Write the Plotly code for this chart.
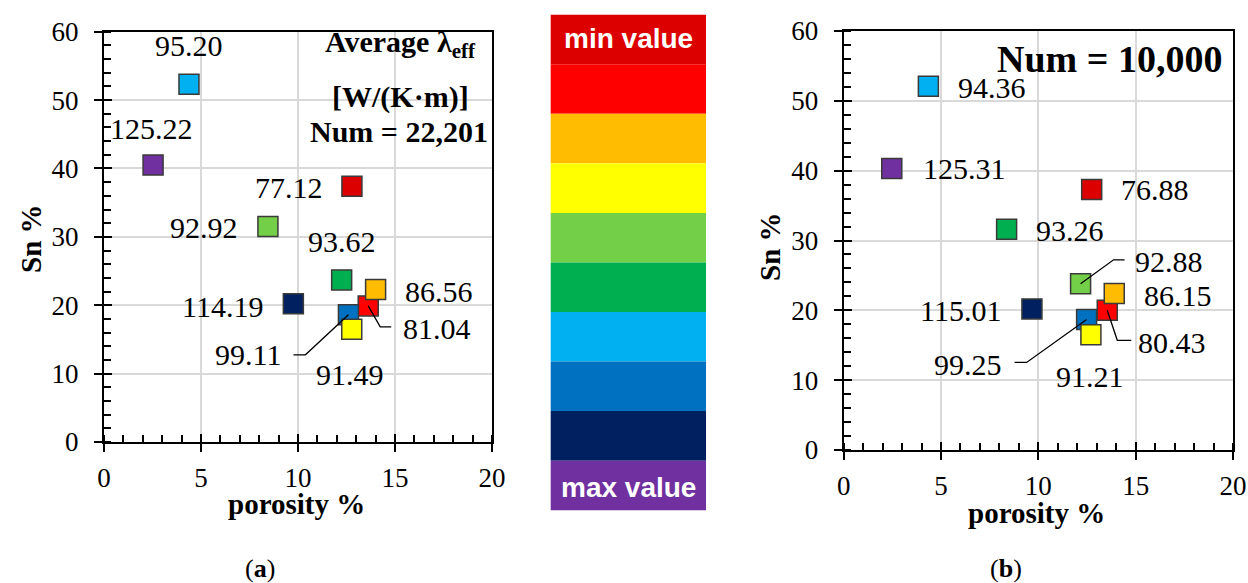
import plotly.graph_objects as go

W, H = 1248, 583

# ---------------- data ----------------
palette = ["#DC0000", "#FF0000", "#FFBC00", "#FFFF00", "#73CF47",
           "#00B050", "#00B0F0", "#0070C0", "#002060", "#7030A0"]
colorbar_labels = ["min value", "max value"]

# panel (a)  Num = 22,201
porosity_a = [4.38, 2.53, 12.78, 8.45, 12.25, 9.76, 13.62, 14.0, 12.6, 12.77]
sn_a = [52.3, 40.5, 37.4, 31.5, 23.7, 20.2, 19.9, 22.3, 18.6, 16.5]
lam_a = [95.20, 125.22, 77.12, 92.92, 93.62, 114.19, 81.04, 86.56, 99.11, 91.49]

# panel (b)  Num = 10,000
porosity_b = [4.35, 2.47, 12.74, 8.37, 12.17, 9.67, 13.54, 13.9, 12.48, 12.7]
sn_b = [52.1, 40.3, 37.3, 31.6, 23.8, 20.2, 20.0, 22.4, 18.7, 16.5]
lam_b = [94.36, 125.31, 76.88, 93.26, 92.88, 115.01, 80.43, 86.15, 99.25, 91.21]

x_ticks = [0, 5, 10, 15, 20]
y_ticks = [0, 10, 20, 30, 40, 50, 60]

# ---------------- layout helpers ----------------
def px(x):
    return x / W

def py(y):
    return 1 - y / H

SERIF = "Liberation Serif"
SANS = "Liberation Sans"

def rank_colors(vals):
    order = sorted(range(len(vals)), key=lambda i: vals[i])
    cols = [None] * len(vals)
    for r, i in enumerate(order):
        cols[i] = palette[r]
    return cols

# label placement (xanchor, xshift px, yshift px)
label_pos_a = [("center", 0, 39), ("center", -2, 37), ("right", -27, -1),
               ("right", -28, -1), ("center", 0, 38), ("right", -28, -3),
               ("left", 33, -23), ("left", 27, -2), ("right", -65, -40),
               ("center", -2, -45)]
label_pos_b = [("left", 28, -1), ("left", 29, 0), ("left", 27, 0),
               ("left", 27, -1), ("left", 52, 22), ("right", -29, -2),
               ("left", 29, -32), ("left", 28, -2), ("right", -83, -45),
               ("center", -1, -42)]
leaders_a = {6: "M0,0 L12,-21 L23,-21", 8: "M0,0 L-43,-40 L-55,-40"}
leaders_b = {4: "M0,0 L33,24 L44,24", 6: "M0,0 L10,-30 L24,-30",
             8: "M0,0 L-60,-43 L-72,-43"}

fig = go.Figure()

panels = [
    dict(xs=porosity_a, ys=sn_a, lam=lam_a, xa="x", ya="y", pos=label_pos_a, lead=leaders_a,
         xdom=[px(104), px(492)], ydom=[py(442), py(31.7)]),
    dict(xs=porosity_b, ys=sn_b, lam=lam_b, xa="x2", ya="y2", pos=label_pos_b, lead=leaders_b,
         xdom=[px(843.7), px(1233)], ydom=[py(450), py(31)]),
]

annotations = []
shapes = []

for p in panels:
    fig.add_trace(go.Scatter(
        x=p["xs"], y=p["ys"], mode="markers", xaxis=p["xa"], yaxis=p["ya"],
        marker=dict(symbol="square", size=20, color=rank_colors(p["lam"]),
                    line=dict(color="#3a3a3a", width=1.5)),
        showlegend=False, hoverinfo="skip"))
    for i, (xv, yv, lv) in enumerate(zip(p["xs"], p["ys"], p["lam"])):
        anc, dx, dy = p["pos"][i]
        annotations.append(dict(
            x=xv, y=yv, xref=p["xa"], yref=p["ya"], text=f"{lv:.2f}",
            showarrow=False, xanchor=anc, yanchor="middle", xshift=dx, yshift=dy,
            font=dict(family=SERIF, size=30, color="black", weight="normal")))
        if i in p["lead"]:
            shapes.append(dict(
                type="path", xref=p["xa"], yref=p["ya"], xsizemode="pixel", ysizemode="pixel",
                xanchor=xv, yanchor=yv, path=p["lead"][i],
                line=dict(color="black", width=1.3), layer="above"))

axis_common = dict(showline=True, linecolor="black", linewidth=2, mirror=True,
                   showgrid=True, gridcolor="#D9D9D9", gridwidth=2, zeroline=False,
                   ticks="outside", ticklen=8, tickwidth=2, tickcolor="black",
                   tickfont=dict(family=SERIF, size=27, color="black", weight="normal"))

fig.update_layout(
    xaxis=dict(domain=panels[0]["xdom"], anchor="y", range=[0, 20], tickvals=x_ticks,
               minor=dict(ticks="inside", ticklen=7, tickwidth=1.5, tickcolor="black", dtick=1, showgrid=False),
               ticklabelstandoff=3, **axis_common),
    yaxis=dict(domain=panels[0]["ydom"], anchor="x", range=[0, 60], tickvals=y_ticks,
               minor=dict(ticks="inside", ticklen=7, tickwidth=1.5, tickcolor="black", dtick=2, showgrid=False),
               ticklabelstandoff=10, **axis_common),
    xaxis2=dict(domain=panels[1]["xdom"], anchor="y2", range=[0, 20], tickvals=x_ticks,
                minor=dict(ticks="inside", ticklen=7, tickwidth=1.5, tickcolor="black", dtick=1, showgrid=False),
                ticklabelstandoff=3, **axis_common),
    yaxis2=dict(domain=panels[1]["ydom"], anchor="x2", range=[0, 60], tickvals=y_ticks,
                minor=dict(ticks="inside", ticklen=7, tickwidth=1.5, tickcolor="black", dtick=2, showgrid=False),
                ticklabelstandoff=10, **axis_common),
)

# overlay axes giving the inner half of the major ticks
inner = dict(ticks="inside", ticklen=8, tickwidth=2, tickcolor="black", showticklabels=False,
             showgrid=False, showline=False, zeroline=False)
fig.update_layout(
    xaxis3=dict(overlaying="x", anchor="y3", range=[0, 20], tickvals=x_ticks, **inner),
    yaxis3=dict(overlaying="y", anchor="x3", range=[0, 60], tickvals=y_ticks, **inner),
    xaxis4=dict(overlaying="x2", anchor="y4", range=[0, 20], tickvals=x_ticks, **inner),
    yaxis4=dict(overlaying="y2", anchor="x4", range=[0, 60], tickvals=y_ticks, **inner),
)
fig.add_trace(go.Scatter(x=[None], y=[None], xaxis="x3", yaxis="y3", showlegend=False, hoverinfo="skip"))
fig.add_trace(go.Scatter(x=[None], y=[None], xaxis="x4", yaxis="y4", showlegend=False, hoverinfo="skip"))

# axis titles, panel tags and info texts
def txt(x, y, s, size, bold=True, family=SERIF, color="black", angle=0, xanchor="center"):
    annotations.append(dict(x=px(x), y=py(y), xref="paper", yref="paper", text=s,
                            showarrow=False, xanchor=xanchor, yanchor="middle", textangle=angle,
                            font=dict(family=family, size=size, color=color,
                                      weight="bold" if bold else "normal")))

txt(296, 504, "porosity %", 29)
txt(1036, 513, "porosity %", 29)
txt(31, 238, "Sn %", 29, angle=-90)
txt(770, 247, "Sn %", 29, angle=-90)
txt(260, 568, "(<b>a</b>)", 26, bold=False)
txt(1006, 568, "(<b>b</b>)", 26, bold=False)
txt(400, 44, "Average λ<sub>eff</sub>", 30)
txt(400, 97, "[W/(K·m)]", 30)
txt(399, 131, "Num = 22,201", 30)
txt(1224, 59, "Num = 10,000", 38, xanchor="right")

# colour scale bar
bx0, bx1, btop, bstep = 550.7, 706, 14.7, 49.55
for k, c in enumerate(palette):
    shapes.append(dict(type="rect", xref="paper", yref="paper",
                       x0=px(bx0), x1=px(bx1), y0=py(btop + (k + 1) * bstep), y1=py(btop + k * bstep),
                       fillcolor=c, line=dict(width=0), layer="below"))
txt((bx0 + bx1) / 2, btop + 0.5 * bstep - 1, colorbar_labels[0], 28, family=SANS, color="white")
txt((bx0 + bx1) / 2, btop + 9.5 * bstep + 2, colorbar_labels[1], 28, family=SANS, color="white")

fig.update_layout(
    width=W, height=H, margin=dict(l=0, r=0, t=0, b=0, autoexpand=False),
    font=dict(family=SERIF, color="black"),
    paper_bgcolor="white", plot_bgcolor="rgba(0,0,0,0)",
    showlegend=False, annotations=annotations, shapes=shapes,
)

fig.write_html("out.html")
